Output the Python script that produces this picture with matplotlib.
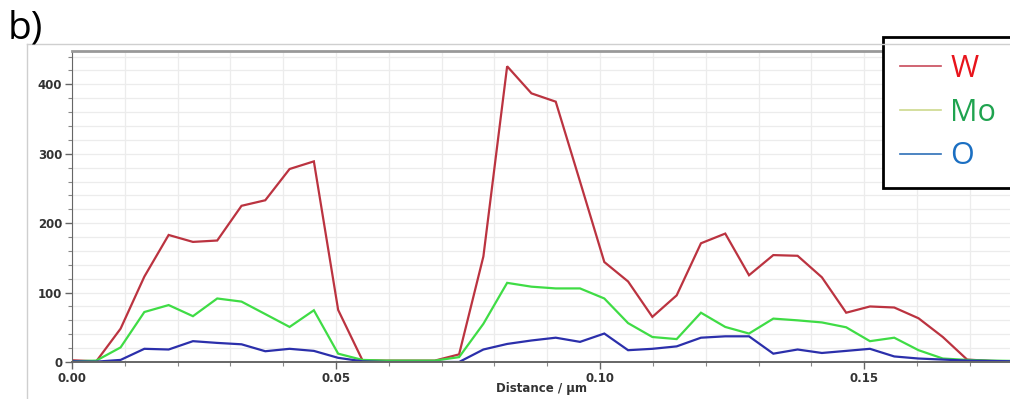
import matplotlib.pyplot as plt
from matplotlib.lines import Line2D
from matplotlib.ticker import MultipleLocator

# Line profile data (distance in um, counts)
distance = [0.0, 0.0046, 0.0092, 0.0137, 0.0183, 0.0229, 0.0275, 0.0321, 0.0366, 0.0412,
            0.0458, 0.0504, 0.055, 0.0595, 0.0641, 0.0687, 0.0733, 0.0779, 0.0824, 0.087,
            0.0916, 0.0962, 0.1008, 0.1053, 0.1099, 0.1145, 0.1191, 0.1237, 0.1282, 0.1328,
            0.1374, 0.142, 0.1466, 0.1511, 0.1557, 0.1603, 0.1649, 0.1695, 0.174, 0.1786]
w_counts = [2.5, 1, 48, 123, 183, 173, 175, 225, 233, 278,
            289, 75, 2.5, 2, 2, 2, 11, 152, 426, 387,
            375, 260, 144, 116, 65, 96, 171, 185, 125, 154,
            153, 122, 71, 80, 78.5, 63, 36, 3.5, 1.5, 0.5]
mo_counts = [1, 2, 21, 72, 82, 66, 91.5, 87, 69, 50.5,
             74.5, 12, 3, 2, 2, 2, 7, 55, 114, 108.5,
             106, 106, 91.5, 56, 36, 33, 71, 50.5, 41, 62.5,
             60, 57, 50, 30, 35, 17, 5, 3, 2, 1.5]
o_counts = [1, 0.5, 3, 19, 18, 30, 27.5, 25.5, 15.5, 19,
            16, 6, 1, 0, 0, 0, 0, 18, 26, 31,
            35, 29, 41, 17, 19, 22.5, 35, 37, 37, 12,
            18, 13, 16, 19, 8, 5, 3.5, 2, 1.5, 1]

series_names = ['W', 'Mo', 'O']
line_colors = ['#bb3340', '#3fdc45', '#2b2fab']
legend_line_colors = ['#c84a5a', '#cdd98e', '#2d6fb8']
legend_text_colors = ['#e8141c', '#1fa34f', '#1b6fc2']

fig = plt.figure(figsize=(10.1, 3.99), dpi=100)
ax = fig.add_axes([72 / 1010, 1 - 362 / 399, 940 / 1010, 311 / 399])

for vals, c in zip([w_counts, mo_counts, o_counts], line_colors):
    ax.plot(distance, vals, color=c, lw=1.6, solid_joinstyle='miter')

ax.set_xlim(0, 0.178)
ax.set_ylim(0, 448)
ax.xaxis.set_major_locator(MultipleLocator(0.05))
ax.xaxis.set_minor_locator(MultipleLocator(0.01))
ax.yaxis.set_major_locator(MultipleLocator(100))
ax.yaxis.set_minor_locator(MultipleLocator(20))
ax.xaxis.set_major_formatter(plt.FormatStrFormatter('%.2f'))
ax.grid(True, which='both', color='#ececec', lw=0.9)
ax.set_axisbelow(True)

for lab in ax.get_xticklabels() + ax.get_yticklabels():
    lab.set_fontweight('bold')
ax.tick_params(which='major', length=5, width=1, color='#666666', labelsize=8.5,
               labelcolor='#333333', pad=2)
ax.tick_params(which='minor', length=3, width=0.8, color='#888888')
ax.set_xlabel('Distance / µm', fontsize=8.5, fontweight='bold', color='#333333', labelpad=-2)

ax.spines['left'].set_color('#666666')
ax.spines['bottom'].set_color('#666666')
ax.spines['bottom'].set_linewidth(1.4)
ax.spines['top'].set_color('#999999')
ax.spines['top'].set_linewidth(2)
ax.spines['right'].set_visible(False)

# light frame of the chart container
fig.add_artist(Line2D([27 / 1010, 1.0], [1 - 44 / 399, 1 - 44 / 399], color='#cfcfcf', lw=1))
fig.add_artist(Line2D([27 / 1010, 27 / 1010], [0, 1 - 44 / 399], color='#cfcfcf', lw=1))

handles = [Line2D([], [], color=c, lw=1.2) for c in legend_line_colors]
leg = ax.legend(handles, series_names, loc='upper left',
                bbox_to_anchor=(883 / 1010, 1 - 37 / 399), bbox_transform=fig.transFigure,
                prop={'family': 'Open Sans', 'size': 22}, frameon=True, fancybox=False,
                edgecolor='black', framealpha=1, borderaxespad=0, borderpad=0.55,
                handlelength=1.35, handletextpad=0.3, labelspacing=0.45)
leg.get_frame().set_linewidth(2)
for t, c in zip(leg.get_texts(), legend_text_colors):
    t.set_color(c)

fig.text(8 / 1010, 1 - 28 / 399, 'b)', fontsize=28, family='Open Sans', va='center', ha='left')

fig.savefig('out.png', dpi=100)
